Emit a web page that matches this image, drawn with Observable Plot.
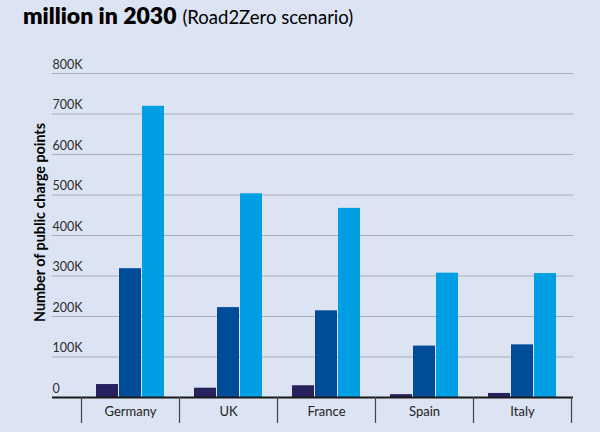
<!DOCTYPE html>
<html>
<head>
<meta charset="utf-8">
<script src="https://cdn.jsdelivr.net/npm/d3@7"></script>
<script src="https://cdn.jsdelivr.net/npm/@observablehq/plot@0.6"></script>
<style>
  html, body { margin: 0; padding: 0; background: #dce3f3; }
  body { width: 600px; height: 432px; overflow: hidden; font-family: Lato, "Noto Sans", sans-serif; }
  #title { height: 50px; box-sizing: border-box; padding: 4px 0 0 23px; font-size: 23px; line-height: 23px; color: #000; white-space: nowrap; }
  #title b { font-weight: 800; }
  #title span { font-size: 18.5px; font-weight: 400; }
  svg { display: block; }
</style>
</head>
<body>
<div id="title"><b>million in 2030</b> <span>(Road2Zero scenario)</span></div>
<div id="chart"></div>
<script>
const countries = ["Germany", "UK", "France", "Spain", "Italy"];
const series = ["2020", "2025", "2030"];
const values2020 = [32000, 23000, 29000, 7000, 10000];
const values2025 = [318000, 222000, 214000, 127000, 130000];
const values2030 = [719000, 503000, 467000, 307000, 306000];
const yTicks = [0, 100000, 200000, 300000, 400000, 500000, 600000, 700000, 800000];
const yTickLabels = ["0", "100K", "200K", "300K", "400K", "500K", "600K", "700K", "800K"];
const colors = ["#27215e", "#004c98", "#009fe3"];

const seriesValues = [values2020, values2025, values2030];
const data = series.flatMap((s, i) => countries.map((c, j) => ({country: c, series: s, value: seriesValues[i][j]})));
const tickData = yTicks.map((v, i) => ({v, label: yTickLabels[i]}));

const offsets = [-23, 0, 23];
const barMarks = series.map((s, i) => Plot.barY(data.filter(d => d.series === s), {
  x: "country", y: "value", fill: colors[i], insetLeft: 38, insetRight: 38, dx: offsets[i]
}));

const chart = Plot.plot({
  width: 600,
  height: 382,
  marginLeft: 52,
  marginRight: 27,
  marginTop: 23,
  marginBottom: 35,
  style: {background: "transparent", fontFamily: "Lato, 'Noto Sans', sans-serif"},
  x: {domain: countries, range: [81, 571], padding: 0, axis: null},
  y: {domain: [0, 800000], axis: null},
  marks: [
    Plot.ruleY(yTicks.filter(v => v > 0), {stroke: "#a6adbd", strokeWidth: 1.2}),
    Plot.text(tickData, {y: "v", text: "label", frameAnchor: "left", textAnchor: "start", dy: -9, fontSize: 12.5, fill: "#2b2b2b"}),
    ...barMarks,
    Plot.ruleY([0], {stroke: "#1a1a1a", strokeWidth: 2}),
    Plot.ruleX(countries, {x: d => d, dx: -49, y1: 0, y2: -64000, stroke: "#444", strokeWidth: 1.2}),
    Plot.ruleX(countries.slice(-1), {x: d => d, dx: 49, y1: 0, y2: -64000, stroke: "#444", strokeWidth: 1.2}),
    Plot.text(countries, {x: d => d, y: 0, text: d => d, dy: 14, fontSize: 13, fill: "#222"}),
    Plot.text(["Number of public charge points"], {frameAnchor: "left", textAnchor: "middle", rotate: -90, dx: -12, dy: -13, fontSize: 14.3, fontWeight: "bold", fill: "#000"})
  ]
});
document.getElementById("chart").appendChild(chart);
</script>
</body>
</html>
